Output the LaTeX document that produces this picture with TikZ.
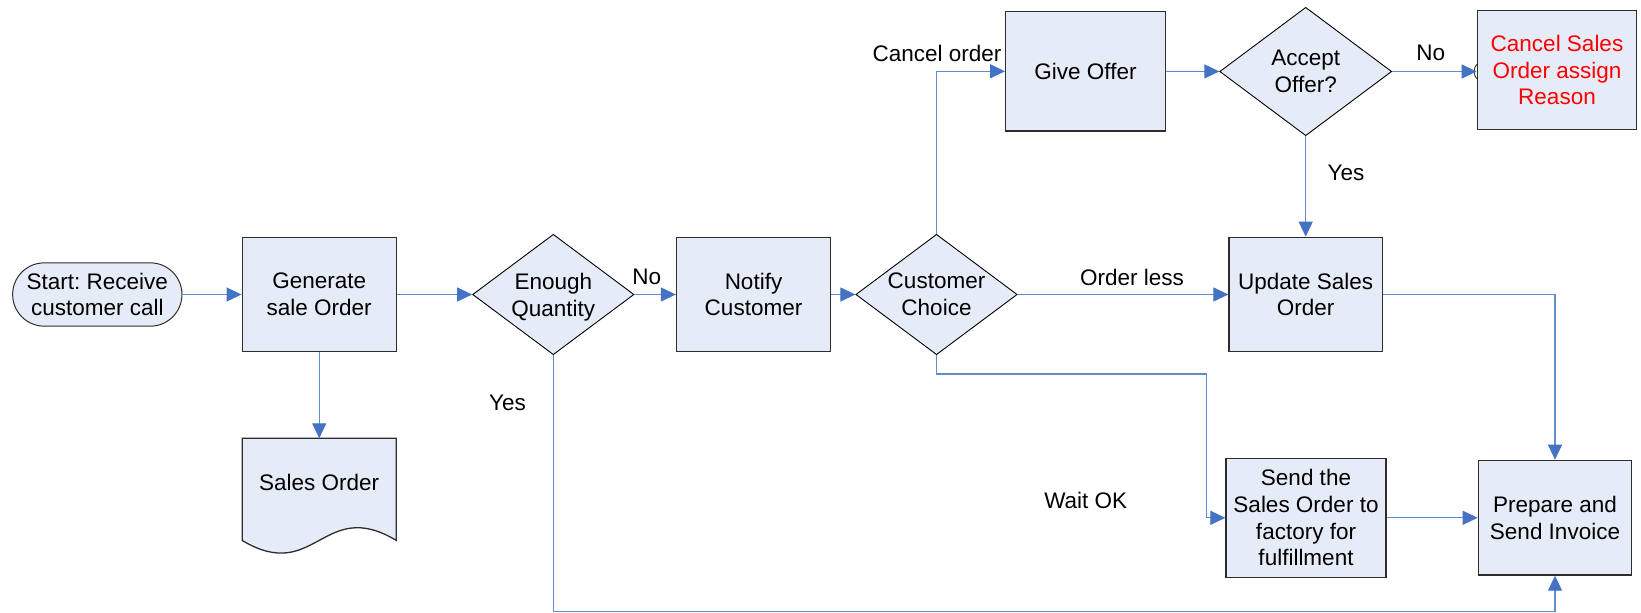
\documentclass[tikz,border=0pt]{standalone}
\usepackage{fontspec}
\setmainfont{Liberation Sans}
\frenchspacing
\usetikzlibrary{arrows.meta,shapes.geometric}
\definecolor{boxfill}{RGB}{230,236,247}
\definecolor{flowline}{RGB}{98,138,206}
\definecolor{tipblue}{RGB}{68,114,196}
\definecolor{outline}{RGB}{45,45,45}
\definecolor{alertred}{RGB}{255,0,0}
\begin{document}
\begin{tikzpicture}[x=1pt,y=-1pt,
  every node/.style={font=\fontsize{22.5}{26.7}\selectfont, align=center, inner sep=0pt},
  proc/.style={rectangle, draw=outline, line width=1.3pt, fill=boxfill,
    minimum width=154pt, minimum height=114.4pt},
  terminal/.style={rectangle, rounded corners=31.6pt, draw=outline, line width=1pt,
    fill=boxfill, minimum width=169.3pt, minimum height=63.3pt},
  decision/.style={diamond, draw=black, line width=0.9pt, fill=boxfill,
    minimum width=161.4pt, minimum height=120.4pt},
  conn/.style={draw=flowline, line width=1.1pt,
    -{Triangle[length=15pt,width=14pt,color=tipblue]}},
  docline/.style={draw=outline, line width=1.3pt, fill=boxfill}
]
\useasboundingbox (0,0) rectangle (1641,613);

% ---- process nodes ----
\node[terminal] (start) at (97.3,294.5) {Start: Receive\\customer call};
\node[proc] (gen) at (319.2,294.5) {Generate\\sale Order};
\node[decision, label={[text depth=0pt]center:{Enough\\Quantity}}] (enough) at (553.3,294.5) {};
\node[proc] (notify) at (753.5,294.5) {Notify\\Customer};
\node[decision, label={center:{Customer\\Choice}}] (choice) at (936.5,294.5) {};
\node[proc, minimum width=159.6pt, minimum height=119.3pt] (give) at (1085.5,71.3) {Give Offer};
\node[decision, minimum width=172pt, minimum height=128.4pt,
      label={center:{Accept\\Offer?}}] (accept) at (1305.7,71.5) {};
\node[proc, minimum width=159.4pt, minimum height=119pt, text=alertred] (cancel)
      at (1557,70.2) {Cancel Sales\\Order assign\\Reason};
\node[proc, minimum width=153.4pt] (update) at (1305.7,294.5) {Update Sales\\Order};
\node[proc, minimum width=160pt, minimum height=119pt] (send) at (1306,517.8)
      {Send the\\Sales Order to\\factory for\\fulfillment};
\node[proc, minimum width=153.4pt, minimum height=114.7pt] (prepare) at (1555,517.7)
      {Prepare and\\Send Invoice};

% ---- document symbol ----
\node[minimum width=153.7pt, minimum height=101.7pt, anchor=north] (doc) at (319.2,438.3) {};
\draw[docline] (doc.north west) -- (doc.north east) -- (doc.south east)
  .. controls ++(-73,-44) and ++(73,44) .. (doc.south west) -- cycle;
\node (doctext) at (319.2,482.3) {Sales Order};

% small bracket mark where the "No" arrow meets the cancel box
\coordinate (noend) at (accept.east -| cancel.west);
\draw[outline, line width=0.9pt] ([shift={(0.5,-7.5)}]noend)
  .. controls ++(-4,3) and ++(-4,-3) .. ([shift={(0.5,7.5)}]noend);

% ---- connectors ----
\draw[conn] (start) -- (gen);
\draw[conn] (gen) -- (enough);
\draw[conn] (gen) -- (doc.north);
\draw[conn] (enough) -- (notify);
\draw[conn] (notify) -- (choice);
\draw[conn] (choice.north) |- (give.west);
\draw[conn] (give) -- (accept);
\draw[conn] (accept.east) -- (noend);
\draw[conn] (accept.south) -- (update.north);
\draw[conn] (choice.east) -- (update.west);
\draw[conn] (update.east) -| (prepare.north);
\coordinate (waitbend) at (1206.7,374);
\draw[conn] (choice.south) |- (waitbend) |- (send.west);
\draw[conn] (send.east) -- (send.east -| prepare.west);
\coordinate (yesbend) at (553.3,611.7);
\draw[conn] (enough.south) -- (yesbend) -| (prepare.south);

% ---- connector labels ----
\node (lno1) at (646.7,277.3) {No};
\node (lyes1) at (507.4,402.7) {Yes};
\node (lcancel) at (937,53.3) {Cancel order};
\node (lless) at (1132,277.4) {Order less};
\node (lyes2) at (1346,173.3) {Yes};
\node (lno2) at (1430.8,53.3) {No};
\node (lwait) at (1085.7,500.7) {Wait OK};
\end{tikzpicture}
\end{document}
